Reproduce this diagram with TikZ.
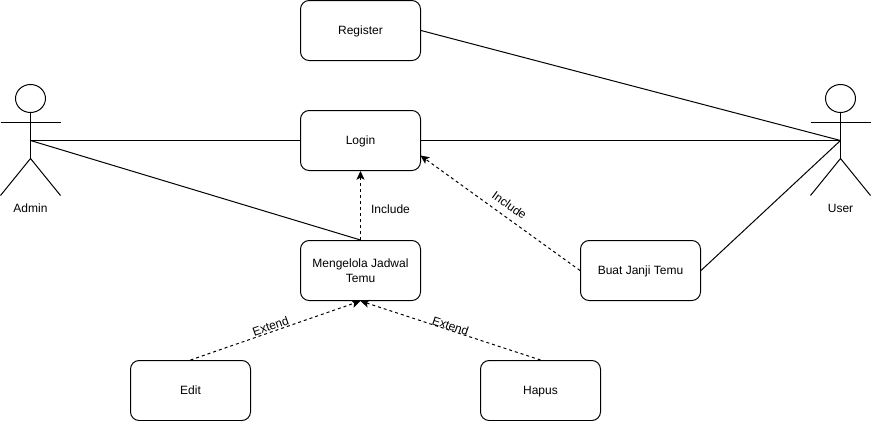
\documentclass[tikz,border=0pt]{standalone}
\usepackage{fontspec}
\setmainfont{Liberation Sans}
\usetikzlibrary{arrows.meta,calc,positioning}

\begin{document}
\begin{tikzpicture}[x=0.75pt,y=-0.75pt,line width=0.75pt]

\tikzset{casenode/.style={draw=black,fill=white,rounded corners=6.5pt,minimum width=90pt,minimum height=45pt,inner sep=2pt,align=center,font=\fontsize{9}{11.25}\selectfont},
oneline/.style={text height=6.5pt,text depth=0pt},
labelnode/.style={inner sep=0pt,text height=6.5pt,text depth=0pt,font=\fontsize{9}{11}\selectfont},
dashedarrow/.style={dash pattern=on 2.25pt off 2.25pt,-{Stealth[length=6.5pt,width=6pt,inset=1.5pt]}}}

\useasboundingbox (-0.5,-0.5) rectangle (870.5,420.5);

% Use cases
\node[casenode,oneline] (register) at (360,30) {Register};
\node[casenode,oneline] (login) at (360,140) {Login};
\node[casenode] (jadwal) at (360,270) {Mengelola Jadwal\\Temu};
\node[casenode,oneline] (janji) at (640,270) {Buat Janji Temu};
\node[casenode,oneline] (edit) at (190,390) {Edit};
\node[casenode,oneline] (hapus) at (540,390) {Hapus};

% Actors
\foreach \who/\x/\name in {admin/30/Admin,user/840/User} {
  \coordinate (\who) at (\x,140);
  \coordinate (\who neck) at (\x,112);
  \coordinate (\who hip) at (\x,158);
  \coordinate (\who arml) at (\x-30,122);
  \coordinate (\who armr) at (\x+30,122);
  \coordinate (\who legl) at (\x-30,195);
  \coordinate (\who legr) at (\x+30,195);
  \draw (\x,98) ellipse [x radius=15,y radius=14];
  \draw (\who neck) -- (\who hip);
  \draw (\who arml) -- (\who armr);
  \draw (\who legl) -- (\who hip) -- (\who legr);
  \node[labelnode] (\who label) at (\x,207.5) {\name};
}

% Associations
\draw (admin) -- (login);
\draw (login) -- (user);
\draw (register.east) -- (user);
\draw (admin) -- (jadwal.north);
\draw (janji.east) -- (user);

% Include and extend
\coordinate (loginport) at (420,155);
\draw[dashedarrow] (jadwal.north) -- (login.south);
\draw[dashedarrow] (janji.west) -- (loginport);
\draw[dashedarrow] (edit.north) -- (jadwal.south);
\draw[dashedarrow] (hapus.north) -- (jadwal.south);

% Edge labels
\node[labelnode] (inclabel) at (390,208.5) {Include};
\node[labelnode,rotate=-35.5] (inclabeltwo) at (509,204.5) {Include};
\node[labelnode,rotate=19.5] (extlabel) at (270,325.5) {Extend};
\node[labelnode,rotate=-18.5] (extlabeltwo) at (450,325.5) {Extend};

\end{tikzpicture}
\end{document}
